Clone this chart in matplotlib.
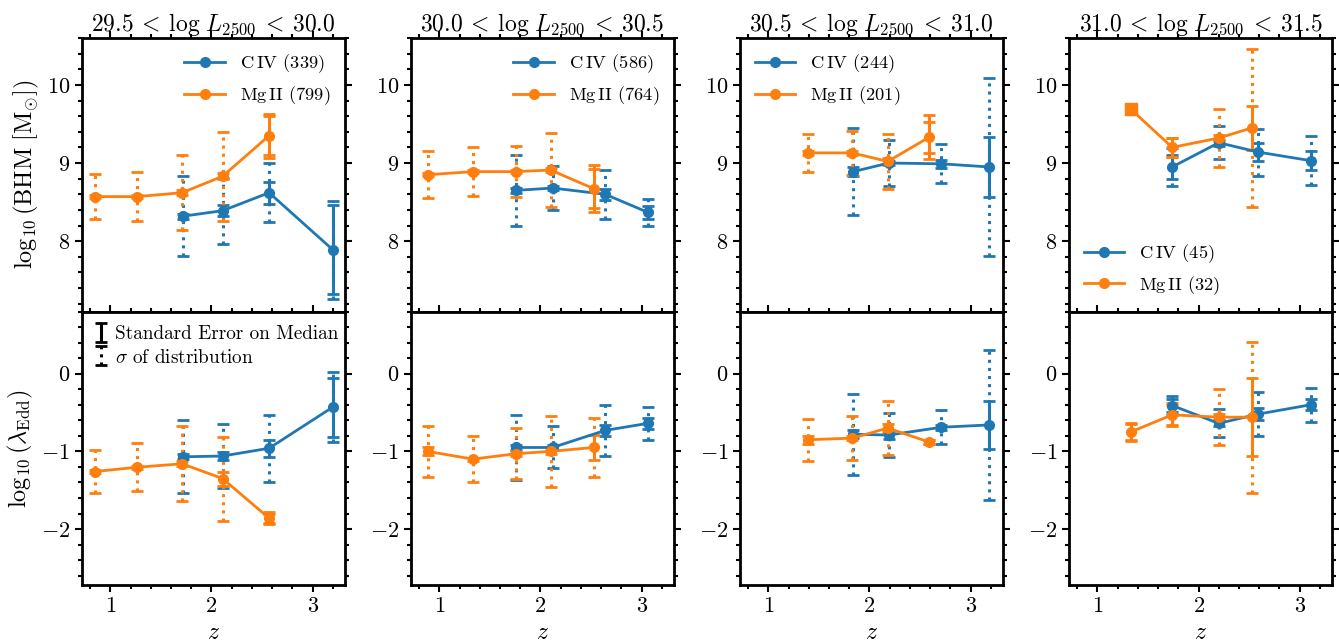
import numpy as np
import matplotlib
matplotlib.use('Agg')
import matplotlib.pyplot as plt
from matplotlib.ticker import MultipleLocator

plt.rcParams['font.family'] = 'serif'
plt.rcParams['font.serif'] = ['cmr10']
plt.rcParams['mathtext.fontset'] = 'cm'
plt.rcParams['axes.formatter.use_mathtext'] = True

# luminosity bins and sample sizes
lum_lo = ['29.5', '30.0', '30.5', '31.0']
lum_hi = ['30.0', '30.5', '31.0', '31.5']
civ_n = [339, 586, 244, 45]
mgii_n = [799, 764, 201, 32]

# C IV medians per redshift bin
civ_z = [[1.72, 2.11, 2.57, 3.20],
         [1.76, 2.12, 2.64, 3.06],
         [1.84, 2.19, 2.71, 3.18],
         [1.74, 2.20, 2.59, 3.11]]
civ_bhm = [[8.32, 8.39, 8.62, 7.89],
           [8.65, 8.68, 8.60, 8.37],
           [8.89, 9.00, 8.99, 8.95],
           [8.95, 9.26, 9.14, 9.03]]
civ_bhm_se = [[0.03, 0.07, 0.14, 0.57],
              [0.03, 0.03, 0.07, 0.08],
              [0.06, 0.03, 0.05, 0.38],
              [0.15, 0.04, 0.12, 0.12]]
civ_bhm_sd = [[0.51, 0.42, 0.38, 0.63],
              [0.45, 0.28, 0.31, 0.17],
              [0.56, 0.30, 0.25, 1.14],
              [0.24, 0.21, 0.30, 0.31]]
civ_edd = [[-1.07, -1.06, -0.96, -0.43],
           [-0.95, -0.95, -0.73, -0.64],
           [-0.78, -0.79, -0.69, -0.66],
           [-0.41, -0.64, -0.52, -0.40]]
civ_edd_se = [[0.03, 0.05, 0.11, 0.38],
              [0.03, 0.03, 0.07, 0.07],
              [0.05, 0.05, 0.03, 0.31],
              [0.08, 0.04, 0.08, 0.07]]
civ_edd_sd = [[0.47, 0.41, 0.43, 0.45],
              [0.42, 0.27, 0.33, 0.21],
              [0.52, 0.28, 0.22, 0.97],
              [0.12, 0.18, 0.28, 0.22]]

# Mg II medians per redshift bin (se == 0 -> single object, no errors)
mgii_z = [[0.845, 1.26, 1.71, 2.11, 2.57],
          [0.885, 1.33, 1.76, 2.10, 2.53],
          [1.39, 1.83, 2.18, 2.59],
          [1.33, 1.74, 2.20, 2.53]]
mgii_bhm = [[8.57, 8.57, 8.62, 8.83, 9.35],
            [8.85, 8.89, 8.89, 8.91, 8.67],
            [9.13, 9.13, 9.02, 9.33],
            [9.69, 9.20, 9.32, 9.45]]
mgii_bhm_se = [[0.02, 0.02, 0.03, 0.04, 0.28],
               [0.02, 0.02, 0.02, 0.03, 0.30],
               [0.03, 0.03, 0.04, 0.28],
               [0.0, 0.12, 0.04, 0.28]]
mgii_bhm_sd = [[0.29, 0.31, 0.48, 0.57, 0.25],
               [0.30, 0.31, 0.33, 0.47, 0.25],
               [0.24, 0.28, 0.35, 0.20],
               [0.0, 0.12, 0.37, 1.01]]
mgii_edd = [[-1.26, -1.205, -1.16, -1.35, -1.86],
            [-1.00, -1.10, -1.03, -1.00, -0.95],
            [-0.85, -0.83, -0.70, -0.88],
            [-0.75, -0.53, -0.56, -0.56]]
mgii_edd_se = [[0.02, 0.02, 0.03, 0.09, 0.08],
               [0.05, 0.02, 0.03, 0.03, 0.16],
               [0.05, 0.03, 0.05, 0.02],
               [0.12, 0.15, 0.04, 0.50]]
mgii_edd_sd = [[0.28, 0.31, 0.48, 0.54, 0.06],
               [0.33, 0.30, 0.33, 0.46, 0.38],
               [0.27, 0.28, 0.35, 0.02],
               [0.10, 0.13, 0.36, 0.97]]

blue = '#1f77b4'
orange = '#ff7f0e'
leg_loc = ['upper right', 'upper right', 'upper left', 'lower left']


def draw_series(ax, z, y, se, sd, color, label):
    z = np.asarray(z); y = np.asarray(y)
    se = np.asarray(se); sd = np.asarray(sd)
    line, = ax.plot(z, y, '-o', color=color, lw=2, ms=7, label=label, zorder=3)
    ok = se > 0
    single = ~ok
    if single.any():
        ax.plot(z[single], y[single], 's', color=color, ms=8, zorder=4)
    eb = ax.errorbar(z[ok], y[ok], yerr=sd[ok], fmt='none', ecolor=color,
                     elinewidth=2.2, capsize=4, capthick=2, zorder=2)
    eb[2][0].set_linestyle(':')
    ax.errorbar(z[ok], y[ok], yerr=se[ok], fmt='none', ecolor=color,
                elinewidth=2.2, capsize=4, capthick=2, zorder=2)
    return line


fig, axes = plt.subplots(2, 4, figsize=(13.39, 6.44), dpi=100)
fig.subplots_adjust(left=0.0612, right=0.9948, top=0.941, bottom=0.0916,
                    wspace=0.251, hspace=0.0)

for i in range(4):
    ax_t = axes[0, i]
    ax_b = axes[1, i]

    h1 = draw_series(ax_t, civ_z[i], civ_bhm[i], civ_bhm_se[i], civ_bhm_sd[i],
                     blue, r'C$\,$IV (%d)' % civ_n[i])
    h2 = draw_series(ax_t, mgii_z[i], mgii_bhm[i], mgii_bhm_se[i], mgii_bhm_sd[i],
                     orange, r'Mg$\,$II (%d)' % mgii_n[i])
    draw_series(ax_b, civ_z[i], civ_edd[i], civ_edd_se[i], civ_edd_sd[i], blue, None)
    draw_series(ax_b, mgii_z[i], mgii_edd[i], mgii_edd_se[i], mgii_edd_sd[i], orange, None)

    ax_t.legend(handles=[h1, h2], loc=leg_loc[i], frameon=False, fontsize=13.3,
                handlelength=2.2, borderaxespad=0.4)
    ax_t.set_title(r'$%s\:<\:\log\,L_{2500}\:<\:%s$' % (lum_lo[i], lum_hi[i]),
                   fontsize=17, pad=5)

    ax_t.set_ylim(7.1, 10.6)
    ax_b.set_ylim(-2.72, 0.8)
    for ax in (ax_t, ax_b):
        ax.set_xlim(0.72, 3.32)
        ax.xaxis.set_major_locator(MultipleLocator(1))
        ax.xaxis.set_minor_locator(MultipleLocator(0.2))
        ax.yaxis.set_major_locator(MultipleLocator(1))
        ax.yaxis.set_minor_locator(MultipleLocator(0.2))
        ax.tick_params(which='both', direction='out', top=True, right=True,
                       labelsize=16, width=1.5)
        ax.tick_params(which='major', length=5)
        ax.tick_params(which='minor', length=3)
        for sp in ax.spines.values():
            sp.set_linewidth(2)
    ax_t.tick_params(labelbottom=False)
    ax_b.set_xlabel(r'$z$', fontsize=17)

axes[0, 0].set_ylabel(r'$\log_{10}(\mathrm{BHM}\ [\mathrm{M}_{\odot}])$', fontsize=17.5)
axes[1, 0].set_ylabel(r'$\log_{10}(\lambda_{\mathrm{Edd}})$', fontsize=17.5)

# error bar key
eb_se = axes[1, 0].errorbar([np.nan], [np.nan], yerr=[1], fmt='none', ecolor='k',
                            elinewidth=2.2, capsize=4, capthick=2)
eb_sd = axes[1, 0].errorbar([np.nan], [np.nan], yerr=[1], fmt='none', ecolor='k',
                            elinewidth=2.2, capsize=4, capthick=2)
eb_sd[2][0].set_linestyle(':')
axes[1, 0].legend([eb_se, eb_sd], ['Standard Error on Median', r'$\sigma$ of distribution'],
                  loc='upper left', frameon=False, fontsize=13.8, handlelength=0.6,
                  handletextpad=0.4, borderaxespad=0.3, labelspacing=0.3)

fig.savefig('out.png', dpi=100)
